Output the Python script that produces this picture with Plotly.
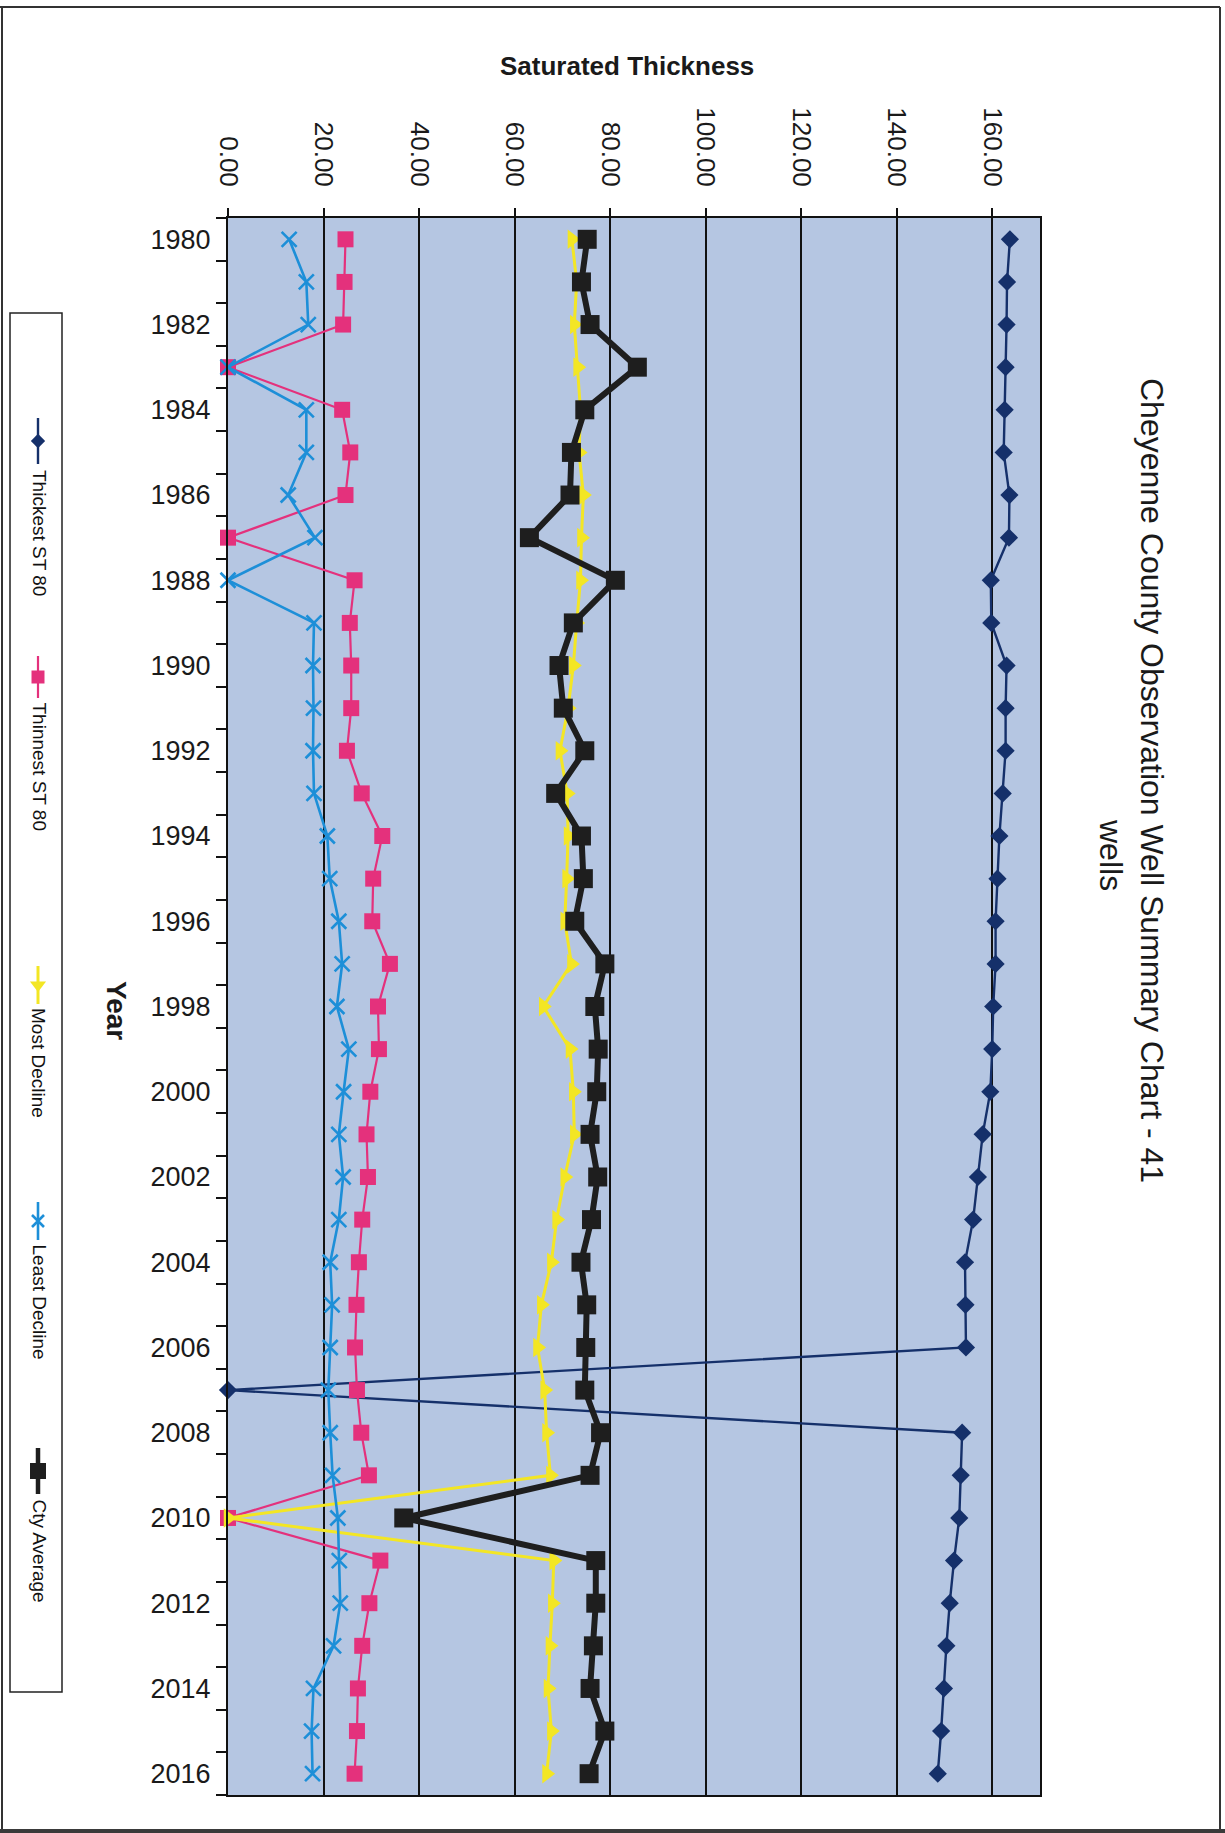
import plotly.graph_objects as go

# ---- data -------------------------------------------------------------
years = list(range(1980, 2017))

thickest_st80 = [163.7, 163.1, 163.0, 162.8, 162.6, 162.4, 163.6, 163.5, 159.7, 159.8,
                 163.0, 162.8, 162.8, 162.2, 161.5, 161.1, 160.7, 160.7, 160.2, 160.0,
                 159.6, 158.0, 157.0, 156.0, 154.3, 154.4, 154.5, 0.0, 153.7, 153.4,
                 153.1, 152.0, 151.1, 150.4, 149.9, 149.3, 148.6]

thinnest_st80 = [24.6, 24.4, 24.1, 0.0, 23.9, 25.6, 24.6, 0.0, 26.5, 25.5,
                 25.8, 25.8, 24.9, 28.0, 32.3, 30.4, 30.2, 33.9, 31.4, 31.6,
                 29.8, 29.0, 29.3, 28.1, 27.4, 26.9, 26.6, 27.0, 27.9, 29.5,
                 0.0, 31.9, 29.6, 28.1, 27.2, 27.0, 26.5]

most_decline = [72.0, 73.0, 72.5, 73.2, 73.8, 73.5, 74.4, 74.0, 73.8, 73.0,
                72.3, 71.2, 69.5, 71.0, 71.2, 70.9, 70.5, 71.9, 66.0, 71.6,
                72.3, 72.5, 70.5, 68.8, 67.7, 65.6, 64.8, 66.3, 66.7, 67.5,
                0.0, 68.2, 67.9, 67.4, 67.0, 67.7, 66.7]

least_decline = [12.8, 16.4, 16.8, 0.0, 16.4, 16.4, 12.6, 18.2, 0.0, 18.0,
                 17.8, 17.9, 17.8, 18.0, 20.8, 21.3, 23.2, 23.9, 22.8, 25.3,
                 24.2, 23.2, 24.1, 23.2, 21.4, 21.8, 21.4, 21.0, 21.4, 21.9,
                 23.0, 23.3, 23.5, 22.1, 17.9, 17.5, 17.7]

cty_average = [75.2, 74.0, 75.8, 85.7, 74.7, 71.9, 71.6, 63.1, 81.1, 72.3,
               69.3, 70.2, 74.7, 68.6, 74.0, 74.4, 72.6, 78.9, 76.8, 77.5,
               77.2, 75.8, 77.4, 76.1, 73.9, 75.1, 74.9, 74.7, 78.0, 75.8,
               36.8, 77.0, 77.0, 76.5, 75.8, 78.9, 75.6]

thickness_ticks = [0, 20, 40, 60, 80, 100, 120, 140, 160]
year_ticks = list(range(1980, 2017, 2))

# ---- page geometry (pixels) --------------------------------------------
W, H = 1225, 1833
PL, PR, PT, PB = 228, 1040, 218, 1795   # plot area edges
FONT = "Liberation Sans, Arial, sans-serif"


def px(x):
    return x / W


def py(y):
    return 1 - y / H


series = [
    dict(name="Thickest ST 80", y=thickest_st80, color="#15306a", symbol="diamond",
         size=14, lw=2.4, mline=None),
    dict(name="Thinnest ST 80", y=thinnest_st80, color="#e4317c", symbol="square",
         size=16, lw=2.2, mline=None),
    dict(name="Most Decline", y=most_decline, color="#f3e624", symbol="triangle-right",
         size=17, lw=3.0, mline=None),
    dict(name="Least Decline", y=least_decline, color="#1d8fd8", symbol="x-thin",
         size=15, lw=2.6, mline=2.6),
    dict(name="Cty Average", y=cty_average, color="#1e1e1e", symbol="square",
         size=19, lw=6, mline=None),
]

fig = go.Figure()

for s in series:
    marker = dict(symbol=s["symbol"], size=s["size"], color=s["color"])
    if s["mline"]:
        marker["line"] = dict(color=s["color"], width=s["mline"])
    fig.add_trace(go.Scatter(
        x=s["y"], y=years, mode="lines+markers", name=s["name"],
        line=dict(color=s["color"], width=s["lw"]),
        marker=marker, cliponaxis=False, showlegend=False,
        xaxis="x", yaxis="y",
    ))

# ---- hand-built rotated legend (pixel overlay axes) ----------------------
legend_entries = [  # (swatch start, swatch end, text start) along the page height
    (418, 464, 468),
    (656, 698, 700),
    (966, 1004, 1006),
    (1202, 1240, 1242),
    (1448, 1494, 1497),
]
LEG_X = 38
for s, (a, b, t) in zip(series, legend_entries):
    fig.add_trace(go.Scatter(
        x=[LEG_X, LEG_X], y=[a, b], mode="lines",
        line=dict(color=s["color"], width=min(s["lw"], 4.5)),
        xaxis="x2", yaxis="y2", showlegend=False, hoverinfo="skip",
    ))
    marker = dict(symbol=s["symbol"].replace("triangle-right", "triangle-down"),
                  size=s["size"] - 3, color=s["color"])
    if s["mline"]:
        marker["line"] = dict(color=s["color"], width=s["mline"])
    fig.add_trace(go.Scatter(
        x=[LEG_X], y=[(a + b) / 2], mode="markers", marker=marker,
        xaxis="x2", yaxis="y2", showlegend=False, hoverinfo="skip",
    ))

annotations = []
for s, (a, b, t) in zip(series, legend_entries):
    annotations.append(dict(
        text=s["name"], x=px(LEG_X + 1), y=py(t), xref="paper", yref="paper",
        xanchor="center", yanchor="top", textangle=90, showarrow=False,
        font=dict(family=FONT, size=19, color="#111111"),
    ))

# titles
annotations += [
    dict(text="<b>Saturated Thickness</b>", x=px(627), y=py(66), xref="paper", yref="paper",
         xanchor="center", yanchor="middle", showarrow=False,
         font=dict(family=FONT, size=26, color="#1a1a1a")),
    dict(text="<b>Year</b>", x=px(117), y=py(1011), xref="paper", yref="paper",
         xanchor="center", yanchor="middle", textangle=90, showarrow=False,
         font=dict(family=FONT, size=28, color="#1a1a1a")),
    dict(text="Cheyenne County Observation Well Summary Chart - 41", x=px(1152), y=py(780),
         xref="paper", yref="paper", xanchor="center", yanchor="middle", textangle=90,
         showarrow=False, font=dict(family=FONT, size=32, color="#1a1a1a")),
    dict(text="wells", x=px(1111), y=py(855), xref="paper", yref="paper",
         xanchor="center", yanchor="middle", textangle=90, showarrow=False,
         font=dict(family=FONT, size=32, color="#1a1a1a")),
]

shapes = [
    # plot-area fill, under the grid
    dict(type="rect", xref="x domain", yref="y domain", x0=0, x1=1, y0=0, y1=1,
         fillcolor="#b5c6e2", line=dict(width=0), layer="below"),
    # legend frame
    dict(type="rect", xref="paper", yref="paper", x0=px(10), x1=px(62), y0=py(313), y1=py(1692),
         line=dict(color="#222222", width=1.5), fillcolor="rgba(0,0,0,0)"),
    # page border
    dict(type="line", xref="paper", yref="paper", x0=px(0), x1=px(1220), y0=py(7), y1=py(7),
         line=dict(color="#333333", width=2)),
    dict(type="line", xref="paper", yref="paper", x0=px(1220), x1=px(1220), y0=py(7), y1=py(1829),
         line=dict(color="#333333", width=2)),
    dict(type="line", xref="paper", yref="paper", x0=px(2), x1=px(2), y0=py(7), y1=py(1831),
         line=dict(color="#333333", width=2)),
    dict(type="line", xref="paper", yref="paper", x0=px(0), x1=px(1225), y0=py(1831), y1=py(1831),
         line=dict(color="#3a3a3a", width=4)),
]

half_years = [y - 0.5 for y in years] + [years[-1] + 0.5]

fig.update_layout(
    width=W, height=H, autosize=False,
    margin=dict(l=0, r=0, t=0, b=0, pad=0, autoexpand=False),
    paper_bgcolor="white",
    plot_bgcolor="rgba(0,0,0,0)",
    showlegend=False,
    annotations=annotations,
    shapes=shapes,
    xaxis=dict(
        domain=[px(PL), px(PR)], anchor="y", side="top", automargin=False,
        range=[0, 170], tickmode="array", tickvals=thickness_ticks,
        ticktext=[f"{v:.2f}" for v in thickness_ticks], tickangle=90,
        tickfont=dict(family=FONT, size=26, color="#1a1a1a"),
        ticks="outside", ticklen=8, tickwidth=1.5, tickcolor="#111111",
        showgrid=True, gridcolor="#111111", gridwidth=1.5, zeroline=False,
        showline=True, linecolor="#111111", linewidth=2.2, mirror=True,
        ticklabelstandoff=12,
    ),
    yaxis=dict(
        domain=[py(PB), py(PT)], anchor="x", automargin=False,
        range=[years[-1] + 0.5, years[0] - 0.5],
        tickmode="array", tickvals=year_ticks, ticktext=[str(y) for y in year_ticks],
        tickfont=dict(family=FONT, size=27, color="#1a1a1a"),
        ticks="", showgrid=False, zeroline=False,
        showline=True, linecolor="#111111", linewidth=2.2, mirror=True,
        minor=dict(tickmode="array", tickvals=half_years, ticks="outside", ticklen=10,
                   tickwidth=1.5, tickcolor="#111111", showgrid=False),
        ticklabelstandoff=10,
    ),
    xaxis2=dict(domain=[0, 1], anchor="y2", range=[0, W], visible=False,
                fixedrange=True, automargin=False),
    yaxis2=dict(domain=[0, 1], anchor="x2", range=[H, 0], visible=False,
                fixedrange=True, automargin=False),
)

fig.write_html("out.html")
